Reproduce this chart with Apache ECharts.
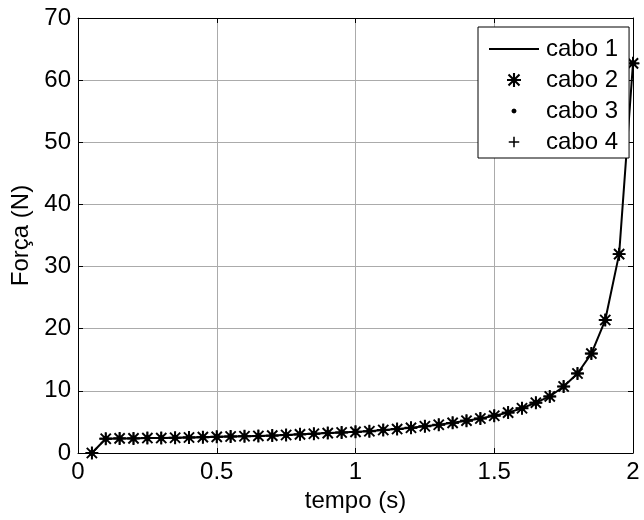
<!DOCTYPE html>
<html>
<head>
<meta charset="utf-8">
<script src="https://cdn.jsdelivr.net/npm/echarts@6/dist/echarts.min.js"></script>
<style>html,body{margin:0;padding:0;background:#fff}#c{width:644px;height:520px}</style>
</head>
<body>
<div id="c"></div>
<script>
// tempo (s)
const tempo = [0.05,0.10,0.15,0.20,0.25,0.30,0.35,0.40,0.45,0.50,
               0.55,0.60,0.65,0.70,0.75,0.80,0.85,0.90,0.95,1.00,
               1.05,1.10,1.15,1.20,1.25,1.30,1.35,1.40,1.45,1.50,
               1.55,1.60,1.65,1.70,1.75,1.80,1.85,1.90,1.95,2.00];
// Força (N) — the four cables overlap
const forca = [0.0,2.3,2.35,2.35,2.4,2.4,2.45,2.5,2.55,2.6,
               2.65,2.7,2.75,2.8,2.9,3.0,3.1,3.2,3.3,3.4,
               3.5,3.7,3.85,4.05,4.3,4.55,4.85,5.2,5.55,6.0,
               6.5,7.2,8.1,9.1,10.7,12.8,16.0,21.4,32.0,62.7];
const seriesNames = ['cabo 1','cabo 2','cabo 3','cabo 4'];
const xTicks = {min:0, max:2, interval:0.5};
const yTicks = {min:0, max:70, interval:10};

const pts = tempo.map((t,i)=>[t, forca[i]]);
const FONT = 'Liberation Sans, Arial, sans-serif';
const ASTER = 'path://M8.5 0 H11.5 V20 H8.5 Z M0 8.5 H20 V11.5 H0 Z M1.1 3.2 L3.2 1.1 L18.9 16.8 L16.8 18.9 Z M16.8 1.1 L18.9 3.2 L3.2 18.9 L1.1 16.8 Z';
const PLUS = 'path://M8.6 0 H11.4 V8.6 H20 V11.4 H11.4 V20 H8.6 V11.4 H0 V8.6 H8.6 Z';
const DOT_ICON = 'path://M0 0 M20 20 M10 6.3 L12.6 7.4 L13.7 10 L12.6 12.6 L10 13.7 L7.4 12.6 L6.3 10 L7.4 7.4 Z';
const PLUS_ICON = 'path://M0 0 M20 20 M8.9 2.5 H11.1 V8.9 H17.5 V11.1 H11.1 V17.5 H8.9 V11.1 H2.5 V8.9 H8.9 Z';
const LINE_ICON = 'path://M0 0 H50 V2.2 H0 Z';

function axisCommon(extra){
  return Object.assign({
    type:'value',
    axisLine:{show:true, onZero:false, lineStyle:{color:'#000', width:1}},
    axisTick:{show:true, inside:true, length:5, lineStyle:{color:'#000'}},
    axisLabel:{color:'#000', fontSize:24, fontFamily:FONT, margin:7},
    splitLine:{show:false}
  }, extra);
}

const chart = echarts.init(document.getElementById('c'), null, {renderer:'canvas'});
chart.setOption({
  animation:false,
  backgroundColor:'#fff',
  grid:{left:78, right:11, top:18, bottom:67, containLabel:false},
  xAxis:[
    axisCommon(Object.assign({position:'bottom', name:'tempo (s)', nameLocation:'middle', nameGap:35,
      nameTextStyle:{color:'#000', fontSize:24, fontFamily:FONT},
      splitLine:{show:true, lineStyle:{color:'#ababab', width:1}}}, xTicks)),
    axisCommon(Object.assign({position:'top', axisLabel:{show:false}}, xTicks))
  ],
  yAxis:[
    axisCommon(Object.assign({position:'left', name:'Força (N)', nameLocation:'middle', nameGap:43,
      nameTextStyle:{color:'#000', fontSize:24, fontFamily:FONT},
      splitLine:{show:true, lineStyle:{color:'#ababab', width:1}}}, yTicks)),
    axisCommon(Object.assign({position:'right', axisLabel:{show:false}}, yTicks))
  ],
  legend:{
    orient:'vertical', left:478, top:27,
    backgroundColor:'#fff', borderColor:'#000', borderWidth:1, borderRadius:0,
    padding:[10,11,4,11], itemGap:7, itemWidth:50, itemHeight:14,
    textStyle:{color:'#000', fontSize:24, fontFamily:FONT, lineHeight:24, padding:[0,0,0,2]},
    data:[
      {name:seriesNames[0], icon:LINE_ICON},
      {name:seriesNames[1], icon:ASTER},
      {name:seriesNames[2], icon:DOT_ICON},
      {name:seriesNames[3], icon:PLUS_ICON}
    ]
  },
  series:[
    {name:seriesNames[0], type:'line', data:pts, symbol:'none', clip:false, z:2,
     lineStyle:{color:'#000', width:2}, itemStyle:{color:'#000'}},
    {name:seriesNames[1], type:'scatter', data:pts, symbol:ASTER, symbolSize:13, clip:false, z:3,
     itemStyle:{color:'#000', opacity:1}},
    {name:seriesNames[2], type:'scatter', data:pts, symbol:'circle', symbolSize:6, clip:false, z:3,
     itemStyle:{color:'#000', opacity:1}},
    {name:seriesNames[3], type:'scatter', data:pts, symbol:PLUS, symbolSize:12, clip:false, z:3,
     itemStyle:{color:'#000', opacity:1}}
  ]
});
</script>
</body>
</html>
